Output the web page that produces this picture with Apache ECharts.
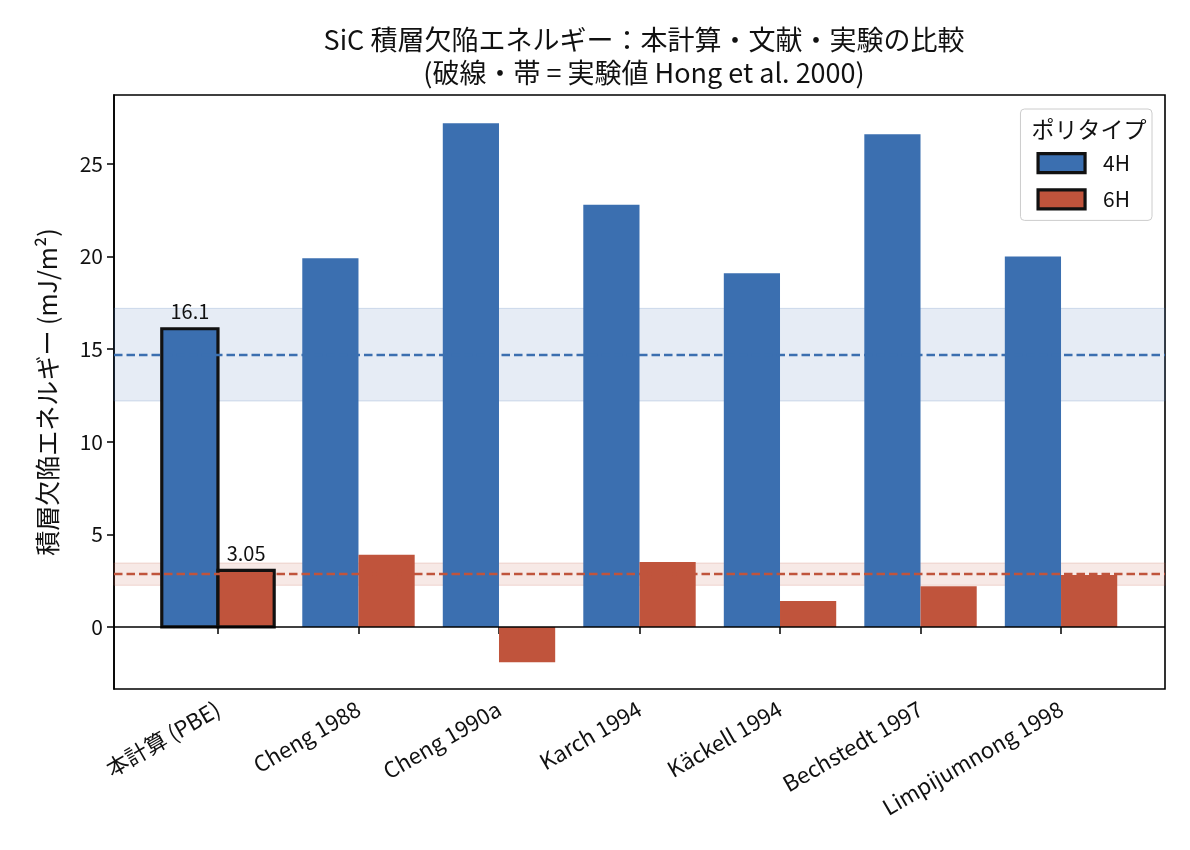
<!DOCTYPE html>
<html>
<head>
<meta charset="utf-8">
<script src="https://cdn.jsdelivr.net/npm/echarts@6/dist/echarts.min.js"></script>
<style>
  html, body { margin: 0; padding: 0; background: #fff; }
  #chart { width: 1190px; height: 850px; }
</style>
</head>
<body>
<div id="chart"></div>
<script>
var categories = ['本計算 (PBE)', 'Cheng 1988', 'Cheng 1990a', 'Karch 1994', 'Käckell 1994', 'Bechstedt 1997', 'Limpijumnong 1998'];
var sfe4H = [16.1, 19.9, 27.2, 22.8, 19.1, 26.6, 20.0];
var sfe6H = [3.05, 3.9, -1.9, 3.5, 1.4, 2.2, 2.8];
var exp4H = 14.7, exp4HErr = 2.5;     // Hong et al. 2000
var exp6H = 2.85, exp6HErr = 0.6;
var ourIndex = 0;                      // 本計算 -> 枠付き + 値ラベル
var yTicks = [0, 5, 10, 15, 20, 25];
var xTicks = categories.map(function (c, i) { return i; });

var BLUE = '#3b6fb0';
var RED = '#c0543c';
var FONT = '"Noto Sans CJK JP", "Noto Sans", sans-serif';
var barW = 0.4;

function barData(values) {
  return values.map(function (v, i) {
    var item = { value: [i, v] };
    if (i === ourIndex) {
      item.itemStyle = { borderColor: '#111', borderWidth: 3.2 };
    }
    return item;
  });
}

function makeRender(offset) {
  return function (params, api) {
    var x = api.value(0), v = api.value(1);
    var p0 = api.coord([x + offset - barW / 2, 0]);
    var p1 = api.coord([x + offset + barW / 2, v]);
    var children = [{
      type: 'rect',
      shape: {
        x: p0[0], y: Math.min(p0[1], p1[1]),
        width: p1[0] - p0[0], height: Math.abs(p1[1] - p0[1])
      },
      style: api.style()
    }];
    if (params.dataIndex === ourIndex) {
      children.push({
        type: 'text',
        style: {
          text: String(v),
          x: (p0[0] + p1[0]) / 2, y: p1[1] - 7,
          align: 'center', verticalAlign: 'bottom',
          fontSize: 20, fontFamily: FONT, fill: '#111'
        }
      });
    }
    return { type: 'group', children: children };
  };
}

var chart = echarts.init(document.getElementById('chart'), null, { renderer: 'canvas' });

var option = {
  animation: false,
  textStyle: { fontFamily: FONT },
  title: [
    {
      text: 'SiC 積層欠陥エネルギー：本計算・文献・実験の比較\n(破線・帯 = 実験値 Hong et al. 2000)',
      left: 639, top: 18, textAlign: 'center',
      textStyle: { fontSize: 27, fontWeight: 'normal', lineHeight: 33, color: '#111', fontFamily: FONT }
    },
    {
      text: 'ポリタイプ',
      left: 1084, top: 113, textAlign: 'center',
      textStyle: { fontSize: 23, fontWeight: 'normal', color: '#111', fontFamily: FONT }
    }
  ],
  legend: {
    orient: 'vertical',
    right: 38, top: 109,
    padding: [43, 22, 10, 16],
    itemWidth: 47, itemHeight: 19, itemGap: 14,
    icon: 'rect',
    borderColor: '#cccccc', borderWidth: 1, borderRadius: 4,
    backgroundColor: 'rgba(255,255,255,0.85)',
    textStyle: { fontSize: 21, color: '#111', padding: [0, 0, 0, 13], fontFamily: FONT },
    data: [
      { name: '4H', itemStyle: { borderColor: '#111', borderWidth: 3.2 } },
      { name: '6H', itemStyle: { borderColor: '#111', borderWidth: 3.2 } }
    ]
  },
  grid: {
    left: 114, right: 25, top: 95, bottom: 161,
    show: true, borderColor: '#000', borderWidth: 1.6,
    containLabel: false
  },
  xAxis: {
    type: 'value',
    min: -0.74, max: 6.74,
    splitLine: { show: false },
    axisLine: { show: false },
    axisTick: { show: true, length: 7, customValues: xTicks, lineStyle: { color: '#000', width: 1.5 } },
    axisLabel: {
      customValues: xTicks,
      rotate: 30, margin: 18,
      fontSize: 22, color: '#111', fontFamily: FONT,
      formatter: function (v) { return categories[Math.round(v)]; }
    }
  },
  yAxis: {
    type: 'value',
    min: -3.35, max: 28.72,
    name: '積層欠陥エネルギー (mJ/m²)',
    nameLocation: 'middle', nameGap: 54,
    nameTextStyle: { fontSize: 25, color: '#111', fontFamily: FONT },
    splitLine: { show: false },
    axisLine: { show: true, onZero: false, lineStyle: { color: '#000', width: 1.6 } },
    axisTick: { show: true, length: 7, customValues: yTicks, lineStyle: { color: '#000', width: 1.5 } },
    axisLabel: { customValues: yTicks, fontSize: 21, color: '#111', margin: 11, fontFamily: FONT }
  },
  series: [
    {
      name: '4H', type: 'custom', z: 2,
      itemStyle: { color: BLUE },
      renderItem: makeRender(-barW / 2),
      encode: { x: 0, y: 1 },
      data: barData(sfe4H)
    },
    {
      name: '6H', type: 'custom', z: 2,
      itemStyle: { color: RED },
      renderItem: makeRender(barW / 2),
      encode: { x: 0, y: 1 },
      data: barData(sfe6H)
    },
    {
      name: 'expBand', type: 'line', z: 4, data: [], silent: true,
      markArea: {
        silent: true,
        data: [
          [{ yAxis: exp4H - exp4HErr, itemStyle: { color: 'rgba(59,111,176,0.13)', borderColor: 'rgba(59,111,176,0.2)', borderWidth: 1 } }, { yAxis: exp4H + exp4HErr }],
          [{ yAxis: exp6H - exp6HErr, itemStyle: { color: 'rgba(192,84,60,0.13)', borderColor: 'rgba(192,84,60,0.2)', borderWidth: 1 } }, { yAxis: exp6H + exp6HErr }]
        ]
      }
    },
    {
      name: 'expLine', type: 'line', z: 6, data: [], silent: true,
      markLine: {
        silent: true, symbol: 'none', label: { show: false },
        data: [
          { yAxis: exp4H, lineStyle: { color: BLUE, type: [8.5, 4], width: 2.3, opacity: 1 } },
          { yAxis: exp6H, lineStyle: { color: RED, type: [8.5, 4], width: 2.3, opacity: 1 } },
          { yAxis: 0, lineStyle: { color: '#000', type: 'solid', width: 1.6, opacity: 1 } }
        ]
      }
    }
  ]
};

chart.setOption(option);
</script>
</body>
</html>
